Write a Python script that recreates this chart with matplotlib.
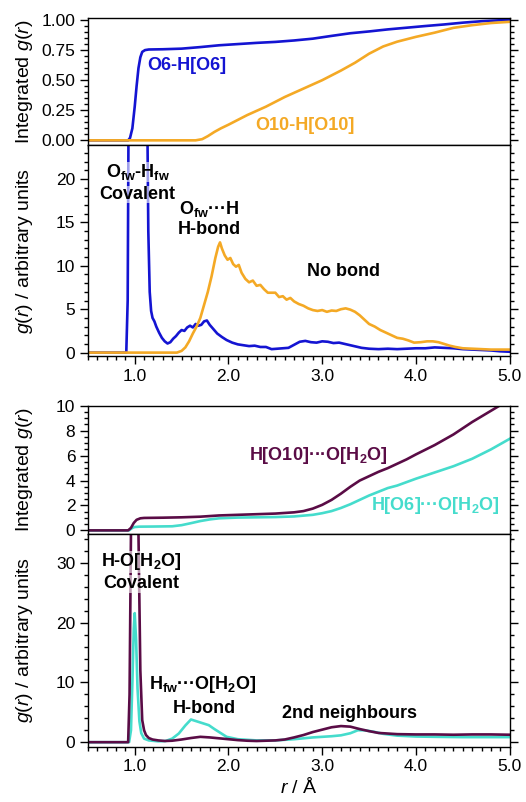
import matplotlib
matplotlib.use("Agg")
import matplotlib.pyplot as plt
from matplotlib.ticker import MultipleLocator

plt.rcParams["font.family"] = ["Liberation Sans", "DejaVu Sans"]
plt.rcParams["mathtext.fontset"] = "custom"
plt.rcParams["mathtext.rm"] = "Liberation Sans"
plt.rcParams["mathtext.it"] = "Liberation Sans:italic"
plt.rcParams["mathtext.bf"] = "Liberation Sans:bold"

BLUE = "#1414d2"
ORANGE = "#f4a925"
PURPLE = "#5a0c46"
TEAL = "#45dccc"

# ---- top block: framework O-H ----
r_int_o6 = [0.5, 0.93, 0.95, 0.975, 1.0, 1.02, 1.04, 1.06, 1.08, 1.11,
            1.15, 1.3, 1.5, 1.7, 1.9, 2.1, 2.3, 2.5, 2.7, 2.9,
            3.1, 3.3, 3.5, 3.7, 3.9, 4.1, 4.3, 4.5, 4.7, 4.9, 5.0]
int_o6 = [0, 0, 0.02, 0.10, 0.28, 0.45, 0.60, 0.69, 0.735, 0.75,
          0.755, 0.757, 0.762, 0.775, 0.79, 0.80, 0.81, 0.818, 0.83, 0.845,
          0.868, 0.89, 0.905, 0.922, 0.936, 0.95, 0.963, 0.978, 0.99, 0.998, 1.0]

r_int_o10 = [0.5, 1.65, 1.72, 1.78, 1.85, 1.92, 2.0, 2.2, 2.4, 2.6,
             2.8, 3.0, 3.2, 3.35, 3.5, 3.65, 3.8, 4.0, 4.2, 4.4,
             4.6, 4.8, 5.0]
int_o10 = [0, 0, 0.01, 0.035, 0.07, 0.10, 0.13, 0.21, 0.28, 0.36,
           0.43, 0.50, 0.58, 0.645, 0.72, 0.78, 0.82, 0.86, 0.895, 0.935,
           0.957, 0.975, 0.985]

r_g_o6 = [0.5, 0.91, 0.925, 0.94, 0.97, 1.0, 1.04, 1.08, 1.12, 1.145,
          1.16, 1.175, 1.19, 1.21, 1.23, 1.26, 1.29, 1.32, 1.35, 1.38,
          1.41, 1.44, 1.47, 1.50, 1.53, 1.56, 1.59, 1.62, 1.65, 1.68,
          1.71, 1.74, 1.77, 1.80, 1.84, 1.88, 1.93, 1.98, 2.04, 2.10,
          2.16, 2.22, 2.28, 2.34, 2.40, 2.46, 2.52, 2.58, 2.64, 2.70,
          2.76, 2.82, 2.88, 2.94, 3.0, 3.06, 3.12, 3.18, 3.24, 3.30,
          3.36, 3.42, 3.5, 3.6, 3.7, 3.8, 3.9, 4.0, 4.1, 4.2,
          4.3, 4.4, 4.5, 4.6, 4.7, 4.8, 4.9, 5.0]
g_o6 = [0, 0, 6, 40, 120, 150, 140, 100, 45, 14,
        7, 4.8, 4.0, 3.6, 3.0, 2.3, 1.7, 1.3, 1.05, 1.2,
        1.6, 1.9, 2.3, 2.6, 2.5, 2.9, 3.1, 2.9, 3.3, 3.1,
        3.2, 3.6, 3.7, 3.2, 2.7, 2.2, 1.8, 1.45, 1.15, 0.95,
        0.85, 0.75, 0.8, 0.65, 0.65, 0.4, 0.45, 0.5, 0.55, 0.9,
        1.25, 1.35, 1.2, 1.15, 1.3, 1.25, 1.1, 1.15, 1.0, 0.85,
        0.7, 0.55, 0.45, 0.4, 0.45, 0.4, 0.45, 0.5, 0.5, 0.6,
        0.55, 0.5, 0.4, 0.35, 0.3, 0.25, 0.15, 0.1]

r_g_o10 = [0.5, 1.45, 1.50, 1.54, 1.58, 1.62, 1.66, 1.70, 1.74, 1.78,
           1.82, 1.86, 1.89, 1.91, 1.93, 1.96, 1.99, 2.02, 2.05, 2.08,
           2.11, 2.14, 2.18, 2.22, 2.26, 2.30, 2.34, 2.38, 2.42, 2.46,
           2.50, 2.54, 2.58, 2.62, 2.66, 2.70, 2.75, 2.80, 2.85, 2.90,
           2.95, 3.0, 3.05, 3.10, 3.15, 3.20, 3.25, 3.30, 3.35, 3.40,
           3.45, 3.50, 3.56, 3.62, 3.68, 3.74, 3.80, 3.86, 3.92, 3.98,
           4.05, 4.12, 4.18, 4.24, 4.30, 4.36, 4.42, 4.50, 4.60, 4.70,
           4.80, 4.90, 5.0]
g_o10 = [0, 0, 0.2, 0.6, 1.3, 2.2, 3.0, 4.0, 5.5, 7.0,
         8.8, 10.9, 12.2, 12.7, 12.0, 11.2, 10.7, 10.9, 10.2, 9.9,
         10.1, 9.2, 8.5, 8.1, 8.3, 7.7, 7.8, 7.3, 6.9, 6.9,
         6.9, 6.4, 6.5, 6.1, 6.3, 5.9, 5.6, 5.4, 5.1, 4.9,
         4.8, 4.9, 4.7, 4.85, 4.8, 5.0, 5.1, 4.95, 4.7, 4.3,
         3.8, 3.3, 3.0, 2.6, 2.3, 2.0, 1.7, 1.6, 1.4, 1.15,
         1.2, 1.3, 1.3, 1.2, 1.0, 0.8, 0.65, 0.5, 0.45, 0.4,
         0.35, 0.35, 0.35]

# ---- bottom block: H ... water O ----
r_int_h10 = [0.5, 0.93, 0.96, 0.99, 1.02, 1.06, 1.10, 1.3, 1.5, 1.7,
             1.9, 2.1, 2.3, 2.5, 2.7, 2.8, 2.9, 3.0, 3.1, 3.2,
             3.3, 3.4, 3.5, 3.6, 3.7, 3.8, 3.9, 4.0, 4.2, 4.4,
             4.6, 4.8, 5.0]
int_h10 = [0, 0, 0.2, 0.6, 0.85, 0.97, 1.0, 1.02, 1.05, 1.1,
           1.2, 1.25, 1.3, 1.35, 1.45, 1.55, 1.75, 2.05, 2.45, 2.95,
           3.5, 4.0, 4.35, 4.7, 5.0, 5.35, 5.7, 6.1, 6.85, 7.7,
           8.7, 9.6, 10.5]

r_int_h6 = [0.5, 0.94, 0.96, 0.98, 1.0, 1.05, 1.2, 1.4, 1.5, 1.6,
            1.7, 1.8, 1.9, 2.1, 2.3, 2.5, 2.7, 2.9, 3.0, 3.1,
            3.2, 3.3, 3.4, 3.5, 3.6, 3.7, 3.8, 4.0, 4.2, 4.4,
            4.6, 4.8, 5.0]
int_h6 = [0, 0, 0.12, 0.22, 0.27, 0.3, 0.31, 0.33, 0.42, 0.58,
          0.75, 0.88, 0.97, 1.03, 1.05, 1.07, 1.12, 1.25, 1.38, 1.55,
          1.8, 2.1, 2.45, 2.8, 3.1, 3.4, 3.6, 4.15, 4.65, 5.15,
          5.75, 6.5, 7.35]

r_g_h10 = [0.5, 0.93, 0.945, 0.96, 0.98, 1.0, 1.02, 1.04, 1.06, 1.08,
           1.10, 1.12, 1.15, 1.19, 1.25, 1.32, 1.40, 1.5, 1.6, 1.7,
           1.8, 1.9, 2.0, 2.1, 2.2, 2.3, 2.4, 2.5, 2.6, 2.7,
           2.8, 2.9, 3.0, 3.1, 3.2, 3.3, 3.4, 3.5, 3.6, 3.7,
           3.8, 4.0, 4.2, 4.4, 4.6, 4.8, 5.0]
g_h10 = [0, 0, 8, 35, 70, 80, 60, 35, 12, 3.7,
         2.0, 1.2, 0.7, 0.45, 0.3, 0.2, 0.25, 0.45, 0.7, 0.9,
         0.8, 0.65, 0.5, 0.35, 0.25, 0.2, 0.25, 0.3, 0.45, 0.8,
         1.2, 1.7, 2.1, 2.5, 2.7, 2.6, 2.2, 1.85, 1.55, 1.45,
         1.35, 1.3, 1.3, 1.25, 1.3, 1.3, 1.25]

r_g_h6 = [0.5, 0.94, 0.96, 0.975, 0.99, 1.0, 1.015, 1.03, 1.05, 1.07,
          1.1, 1.15, 1.25, 1.33, 1.40, 1.47, 1.54, 1.60, 1.66, 1.72,
          1.79, 1.85, 1.92, 1.98, 2.1, 2.3, 2.5, 2.7, 2.9, 3.0,
          3.1, 3.2, 3.3, 3.38, 3.45, 3.55, 3.65, 3.8, 4.0, 4.2,
          4.5, 4.8, 5.0]
g_h6 = [0, 0, 2, 10, 19, 21.6, 17, 9, 3.5, 1.5,
        0.6, 0.3, 0.15, 0.2, 0.6, 1.45, 2.8, 3.8, 3.5, 3.2,
        2.85, 2.2, 1.5, 0.9, 0.5, 0.3, 0.3, 0.5, 0.8, 0.9,
        1.0, 1.15, 1.5, 2.0, 2.0, 1.75, 1.4, 1.1, 0.95, 0.9,
        0.85, 0.85, 0.85]

x_ticks = [1.0, 2.0, 3.0, 4.0, 5.0]

fig = plt.figure(figsize=(5.26, 8.02), dpi=100)
L, W = 0.167, 0.802
ax1 = fig.add_axes([L, 0.819, W, 0.158])
ax2 = fig.add_axes([L, 0.556, W, 0.263])
ax3 = fig.add_axes([L, 0.334, W, 0.160])
ax4 = fig.add_axes([L, 0.0686, W, 0.266])

lw = 1.9
ax1.plot(r_int_o6, int_o6, color=BLUE, lw=lw)
ax1.plot(r_int_o10, int_o10, color=ORANGE, lw=lw)
ax2.plot(r_g_o6, g_o6, color=BLUE, lw=lw)
ax2.plot(r_g_o10, g_o10, color=ORANGE, lw=lw)
ax3.plot(r_int_h6, int_h6, color=TEAL, lw=lw)
ax3.plot(r_int_h10, int_h10, color=PURPLE, lw=lw)
ax4.plot(r_g_h6, g_h6, color=TEAL, lw=lw)
ax4.plot(r_g_h10, g_h10, color=PURPLE, lw=lw)

ax1.set_ylim(-0.04, 1.013)
ax2.set_ylim(-0.4, 23.9)
ax3.set_ylim(-0.3, 10.0)
ax4.set_ylim(-0.8, 34.9)

for ax in (ax1, ax2, ax3, ax4):
    ax.set_xlim(0.5, 5.0)
    ax.xaxis.set_minor_locator(MultipleLocator(0.1))
    ax.set_xticks(x_ticks)
    ax.set_xticklabels(["%.1f" % t for t in x_ticks])
    ax.tick_params(which="both", direction="out", labelsize=12.5,
                   left=True, right=True, top=False, bottom=True, width=1)
    ax.tick_params(which="major", length=5.5)
    ax.tick_params(which="minor", length=3)
    for s in ax.spines.values():
        s.set_linewidth(1.0)

for ax in (ax1, ax3):
    ax.tick_params(labelbottom=False)

ax1.yaxis.set_minor_locator(MultipleLocator(0.05))
ax1.set_yticks([0.0, 0.25, 0.5, 0.75, 1.0])
ax1.set_yticklabels(["0.00", "0.25", "0.50", "0.75", "1.00"])
ax2.yaxis.set_major_locator(MultipleLocator(5))
ax2.yaxis.set_minor_locator(MultipleLocator(1))
ax3.yaxis.set_major_locator(MultipleLocator(2))
ax3.yaxis.set_minor_locator(MultipleLocator(0.5))
ax4.yaxis.set_major_locator(MultipleLocator(10))
ax4.yaxis.set_minor_locator(MultipleLocator(2))

ylab = 14
for ax in (ax1, ax3):
    ax.set_ylabel("Integrated $g(r)$", fontsize=ylab)
for ax in (ax2, ax4):
    ax.set_ylabel("$g(r)$ / arbitrary units", fontsize=ylab)
for ax in (ax1, ax2, ax3, ax4):
    ax.yaxis.set_label_coords(-0.125, 0.5)
ax4.set_xlabel("$r$ / Å", fontsize=ylab, labelpad=2)

fs = 13
halo = dict(facecolor="white", alpha=0.6, edgecolor="none", pad=0.2)
ax1.text(1.13, 0.625, "O6-H[O6]", color=BLUE, fontsize=fs, fontweight="bold",
         ha="left", va="center")
ax1.text(2.29, 0.125, "O10-H[O10]", color=ORANGE, fontsize=fs,
         fontweight="bold", ha="left", va="center")

ax2.text(1.03, 20.8, r"O$_\mathbf{fw}$-H$_\mathbf{fw}$", fontsize=fs,
         fontweight="bold", ha="center", va="center", bbox=halo)
ax2.text(1.03, 18.2, "Covalent", fontsize=fs, fontweight="bold",
         ha="center", va="center", bbox=halo)
ax2.text(1.8, 16.6, r"O$_\mathbf{fw}$···H", fontsize=fs, fontweight="bold",
         ha="center", va="center")
ax2.text(1.8, 14.2, "H-bond", fontsize=fs, fontweight="bold",
         ha="center", va="center")
ax2.text(3.23, 9.35, "No bond", fontsize=fs, fontweight="bold",
         ha="center", va="center")

ax3.text(2.22, 6.0, r"H[O10]···O[H$_\mathbf{2}$O]", color=PURPLE, fontsize=fs,
         fontweight="bold", ha="left", va="center")
ax3.text(4.89, 2.0, r"H[O6]···O[H$_\mathbf{2}$O]", color=TEAL, fontsize=fs,
         fontweight="bold", ha="right", va="center")

ax4.text(1.07, 30.2, r"H-O[H$_\mathbf{2}$O]", fontsize=fs, fontweight="bold",
         ha="center", va="center", bbox=halo)
ax4.text(1.07, 26.5, "Covalent", fontsize=fs, fontweight="bold",
         ha="center", va="center", bbox=halo)
ax4.text(1.72, 9.6, r"H$_\mathbf{fw}$···O[H$_\mathbf{2}$O]", fontsize=fs,
         fontweight="bold", ha="center", va="center")
ax4.text(1.74, 5.65, "H-bond", fontsize=fs, fontweight="bold",
         ha="center", va="center")
ax4.text(3.29, 4.8, "2nd neighbours", fontsize=fs, fontweight="bold",
         ha="center", va="center")

fig.savefig("out.png", dpi=100)
